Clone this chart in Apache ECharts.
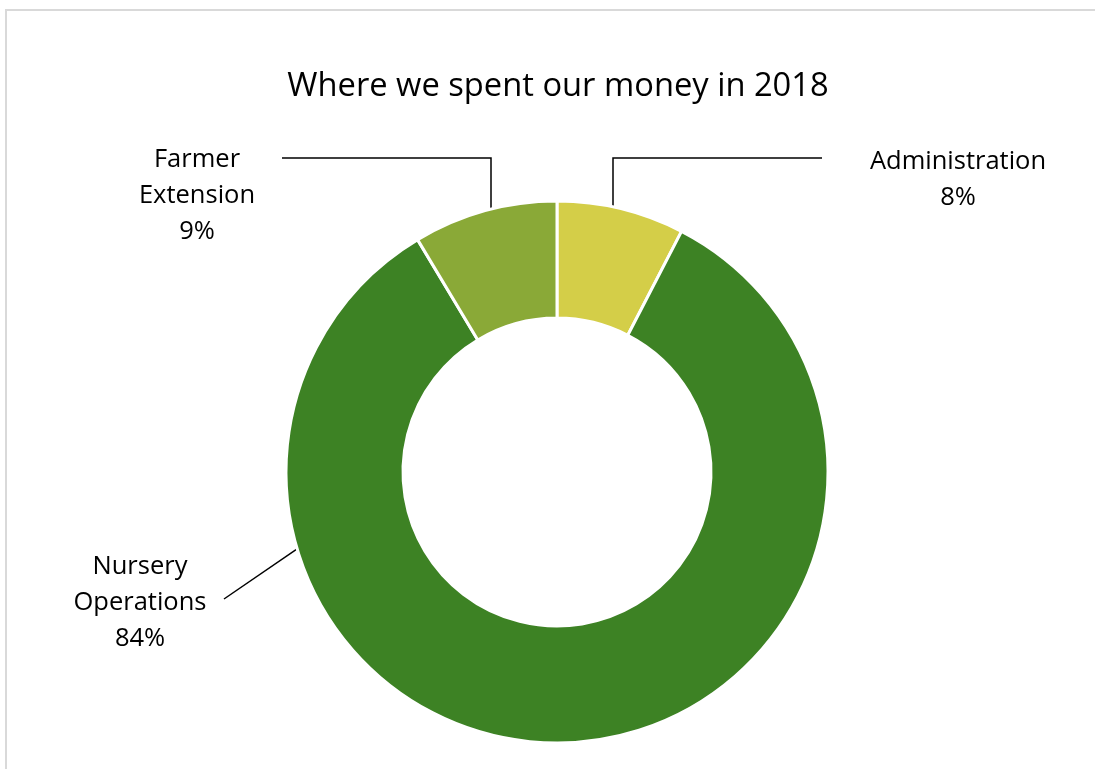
<!DOCTYPE html>
<html>
<head>
<meta charset="utf-8">
<script src="https://cdn.jsdelivr.net/npm/echarts@6/dist/echarts.min.js"></script>
<style>
html,body{margin:0;padding:0;background:#fff;}
#chart{width:1095px;height:769px;}
</style>
</head>
<body>
<div id="chart"></div>
<script>
// ---- data ----
const titleText = 'Where we spent our money in 2018';
const categories = ['Administration', 'Nursery Operations', 'Farmer Extension'];
const values = [7.6, 83.8, 8.6];
const colors = ['#d4ce48', '#3d8224', '#8aa937'];

// ---- layout (positions, not data) ----
const CX = 557, CY = 472, R_OUT = 271, R_IN = 154;
const FONT = 'Open Sans';
const labelPos = [
  { x: 958, y: 180 },
  { x: 140, y: 603 },
  { x: 197, y: 196 }
];
function edgeYAtX(x) { return CY - Math.sqrt(R_OUT * R_OUT - (x - CX) * (x - CX)); }
function edgeAtAngle(deg) {
  const a = deg * Math.PI / 180;
  return [CX + R_OUT * Math.sin(a), CY - R_OUT * Math.cos(a)];
}
const leaderLines = [
  [[613, edgeYAtX(613)], [613, 158], [822, 158]],
  [edgeAtAngle(253.5), [224, 599]],
  [[491, edgeYAtX(491)], [491, 158], [282, 158]]
];

const total = values.reduce((a, b) => a + b, 0);
const chart = echarts.init(document.getElementById('chart'));
chart.setOption({
  backgroundColor: '#fff',
  animation: false,
  title: {
    text: titleText,
    left: 553,
    textAlign: 'center',
    top: 65,
    textStyle: { fontFamily: FONT, fontSize: 32.7, fontWeight: 'normal', color: '#000' }
  },
  graphic: [{
    type: 'rect',
    shape: { x: 6, y: 10, width: 1100, height: 780 },
    style: { fill: 'none', stroke: '#d9d9d9', lineWidth: 2 },
    silent: true
  }],
  series: [{
    type: 'pie',
    center: [CX, CY],
    radius: [R_IN, R_OUT],
    startAngle: 90,
    clockwise: true,
    avoidLabelOverlap: false,
    itemStyle: { borderColor: '#fff', borderWidth: 3 },
    label: {
      show: true,
      position: 'outside',
      fontFamily: FONT,
      fontSize: 25.5,
      lineHeight: 36,
      color: '#000',
      align: 'center',
      formatter: function (p) {
        return p.name.replace(' ', '\n') + '\n' + Math.round(p.value / total * 100) + '%';
      }
    },
    labelLine: { show: true, lineStyle: { color: '#000', width: 1.5 } },
    labelLayout: function (params) {
      const i = params.dataIndex;
      return {
        x: labelPos[i].x,
        y: labelPos[i].y,
        align: 'center',
        verticalAlign: 'middle',
        labelLinePoints: leaderLines[i]
      };
    },
    data: categories.map((c, i) => ({ name: c, value: values[i], itemStyle: { color: colors[i] } }))
  }]
});
</script>
</body>
</html>
